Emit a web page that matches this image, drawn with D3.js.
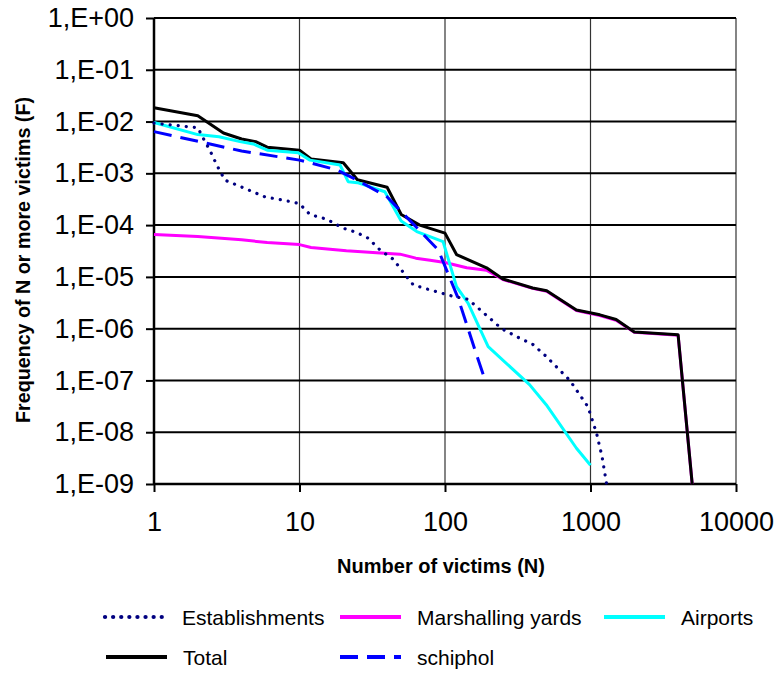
<!DOCTYPE html>
<html>
<head>
<meta charset="utf-8">
<script src="https://cdn.jsdelivr.net/npm/d3@7"></script>
<style>
	body { margin: 0; background: #fff; }
	svg { display: block; font-family: "Liberation Sans", Arial, sans-serif; }
</style>
</head>
<body>
<div id="chart"></div>
<script>
////////////////////////////////////////////////////////////////////////////////
// Data (N = number of victims, F = frequency)
var est_n = [1, 2, 2.24, 2.42, 2.7, 3.07, 3.9, 5.8, 7.9, 10, 11.8, 15.4, 20, 24.7, 29.6, 35.8,
	44, 54.6, 60.6, 79, 114, 144, 193, 245, 346, 394, 497, 722, 960, 1100, 1200, 1290];
var est_f = [9.3e-3, 7.6e-3, 4.1e-3, 2.8e-3, 1.45e-3, 7.4e-4, 5.6e-4, 3.5e-4, 3e-4, 2.6e-4, 1.6e-4,
	1.3e-4, 8.7e-5, 7.2e-5, 5.6e-5, 3.3e-5, 2.2e-5, 1e-5, 7e-6, 5.6e-6, 4.2e-6, 3.7e-6, 1.8e-6,
	1e-6, 6e-7, 5.2e-7, 2.9e-7, 1e-7, 3.1e-8, 9.6e-9, 3.4e-9, 1e-9];

var marsh_n = [1, 2, 4, 6, 10, 12, 21, 36, 49, 63, 79, 100, 141, 193, 250, 400, 500, 800, 1160,
	1500, 2000, 4000, 5000];
var marsh_f = [6.6e-5, 6e-5, 5.2e-5, 4.6e-5, 4.2e-5, 3.7e-5, 3.2e-5, 2.9e-5, 2.75e-5, 2.3e-5,
	2.1e-5, 1.9e-5, 1.5e-5, 1.35e-5, 8.9e-6, 6e-6, 5.3e-6, 2.25e-6, 1.8e-6, 1.45e-6, 8.5e-7,
	7.5e-7, 1e-9];

var air_n = [1, 2, 2.8, 3.9, 4.8, 6, 9.8, 11.8, 19, 21.6, 25, 38.6, 50, 64, 97, 120, 144, 198,
	381, 496, 801, 1000];
var air_f = [9.6e-3, 5.6e-3, 5.1e-3, 4.1e-3, 3.7e-3, 2.8e-3, 2.5e-3, 1.8e-3, 1.45e-3, 6.9e-4,
	6.6e-4, 4.4e-4, 1.2e-4, 7.5e-5, 4.8e-5, 6.5e-6, 3.1e-6, 4.5e-7, 8.3e-8, 3.4e-8, 4.9e-9, 2.3e-9];

var total_n = [1, 2, 3, 4, 5, 6, 10, 12, 20, 25, 40, 50, 67, 100, 120, 193, 250, 400, 500, 800,
	1160, 1500, 2000, 4000, 5000];
var total_f = [1.85e-2, 1.3e-2, 6e-3, 4.6e-3, 4.1e-3, 3.2e-3, 2.8e-3, 1.9e-3, 1.6e-3, 7.5e-4,
	5.4e-4, 1.6e-4, 1e-4, 7e-5, 2.7e-5, 1.5e-5, 9.1e-6, 6.1e-6, 5.4e-6, 2.3e-6, 1.85e-6, 1.5e-6,
	8.6e-7, 7.6e-7, 1e-9];

var schip_n = [1, 4, 10, 18, 23.4, 39.6, 90, 123, 165, 190];
var schip_f = [6.4e-3, 2.7e-3, 1.8e-3, 1.17e-3, 8.1e-4, 3.6e-4, 3.3e-5, 3.9e-6, 3.1e-7, 9.5e-8];

var x_ticks = [1, 10, 100, 1000, 10000];
var y_ticks = [1, 1e-1, 1e-2, 1e-3, 1e-4, 1e-5, 1e-6, 1e-7, 1e-8, 1e-9];

////////////////////////////////////////////////////////////////////////////////
// Series styles (drawing order: first drawn is at the back)
var series = [
	{name: 'Marshalling yards', n: marsh_n, f: marsh_f, color: '#ff00ff', dash: null, width: 3},
	{name: 'Total', n: total_n, f: total_f, color: '#000000', dash: null, width: 3},
	{name: 'Airports', n: air_n, f: air_f, color: '#00ffff', dash: null, width: 3},
	{name: 'schiphol', n: schip_n, f: schip_f, color: '#0000ff', dash: '18,9', width: 3},
	{name: 'Establishments', n: est_n, f: est_f, color: '#000080', dash: '0.1,8', width: 3.2, cap: 'round'}
];

var W = 779, H = 673;
var margin = {top: 18, right: 43, bottom: 189, left: 154};
var width = W - margin.left - margin.right,
	height = H - margin.top - margin.bottom;

var svg = d3.select('#chart').append('svg')
	.attr('width', W)
	.attr('height', H);

var xx = d3.scaleLog().domain([1, 10000]).range([margin.left, margin.left + width]);
var yy = d3.scaleLog().domain([1e-9, 1]).range([margin.top + height, margin.top]);

////////////////////////////////////////////////////////////////////////////////
// Grid lines
svg.append('g')
	.selectAll('line')
	.data(x_ticks.slice(1))
	.enter().append('line')
	.attr('x1', function(d) { return xx(d); })
	.attr('x2', function(d) { return xx(d); })
	.attr('y1', yy(1))
	.attr('y2', yy(1e-9))
	.attr('stroke', '#333')
	.attr('stroke-width', 1.2);

svg.append('g')
	.selectAll('line')
	.data(y_ticks.slice(0, -1))
	.enter().append('line')
	.attr('x1', xx(1))
	.attr('x2', xx(10000))
	.attr('y1', function(d) { return yy(d); })
	.attr('y2', function(d) { return yy(d); })
	.attr('stroke', '#000')
	.attr('stroke-width', 2);

////////////////////////////////////////////////////////////////////////////////
// Axes
var yfmt = function(d) {
	var e = Math.round(Math.log10(d));
	var s = (e < 0 ? '-' : '+') + (Math.abs(e) < 10 ? '0' : '') + Math.abs(e);
	return '1,E' + s;
};

var yAxis = svg.append('g')
	.attr('transform', 'translate(' + margin.left + ',0)')
	.call(d3.axisLeft(yy).tickValues(y_ticks).tickFormat(yfmt).tickSize(8).tickPadding(12));

var xAxis = svg.append('g')
	.attr('transform', 'translate(0,' + (margin.top + height) + ')')
	.call(d3.axisBottom(xx).tickValues(x_ticks).tickFormat(d3.format('d')).tickSize(8).tickPadding(20));

[xAxis, yAxis].forEach(function(a) {
	a.select('.domain').attr('stroke', '#000').attr('stroke-width', 2.5);
	a.selectAll('.tick line').attr('stroke', '#000').attr('stroke-width', 2);
	a.selectAll('.tick text')
		.attr('fill', '#000')
		.style('font-size', '27px')
		.style('font-family', '"Liberation Sans", Arial, sans-serif');
});
// plain vertical axis line without outer tick stubs
yAxis.select('.domain').attr('d', 'M0,' + yy(1) + 'V' + yy(1e-9));
xAxis.select('.domain').attr('d', 'M' + xx(1) + ',0H' + xx(10000));

// Axis titles
svg.append('text')
	.attr('x', 441)
	.attr('y', 573)
	.attr('text-anchor', 'middle')
	.style('font-size', '20px')
	.style('font-weight', 'bold')
	.text('Number of victims (N)');

svg.append('text')
	.attr('transform', 'translate(30,260) rotate(-90)')
	.attr('text-anchor', 'middle')
	.style('font-size', '19.7px')
	.style('font-weight', 'bold')
	.text('Frequency of N or more victims (F)');

////////////////////////////////////////////////////////////////////////////////
// Lines
var line = d3.line()
	.x(function(d) { return xx(d[0]); })
	.y(function(d) { return yy(d[1]); });

series.forEach(function(s) {
	var pts = s.n.map(function(n, i) { return [n, s.f[i]]; });
	svg.append('path')
		.datum(pts)
		.attr('fill', 'none')
		.attr('stroke', s.color)
		.attr('stroke-width', s.width)
		.attr('stroke-dasharray', s.dash)
		.attr('stroke-linecap', s.cap || 'butt')
		.attr('stroke-linejoin', 'round')
		.attr('d', line);
});

////////////////////////////////////////////////////////////////////////////////
// Legend
var legend_items = [
	{name: 'Establishments', x: 105, y: 617},
	{name: 'Marshalling yards', x: 340, y: 617},
	{name: 'Airports', x: 604, y: 617},
	{name: 'Total', x: 106, y: 657},
	{name: 'schiphol', x: 340, y: 657}
];

legend_items.forEach(function(it) {
	var s = series.filter(function(d) { return d.name == it.name; })[0];
	var g = svg.append('g').attr('transform', 'translate(' + it.x + ',' + it.y + ')');
	g.append('line')
		.attr('x1', 0).attr('x2', 61)
		.attr('y1', 0).attr('y2', 0)
		.attr('stroke', s.color)
		.attr('stroke-width', s.width + 1)
		.attr('stroke-dasharray', s.dash)
		.attr('stroke-linecap', s.cap || 'butt');
	g.append('text')
		.attr('x', 77)
		.attr('y', 7.5)
		.style('font-size', '21px')
		.text(s.name);
});
</script>
</body>
</html>
